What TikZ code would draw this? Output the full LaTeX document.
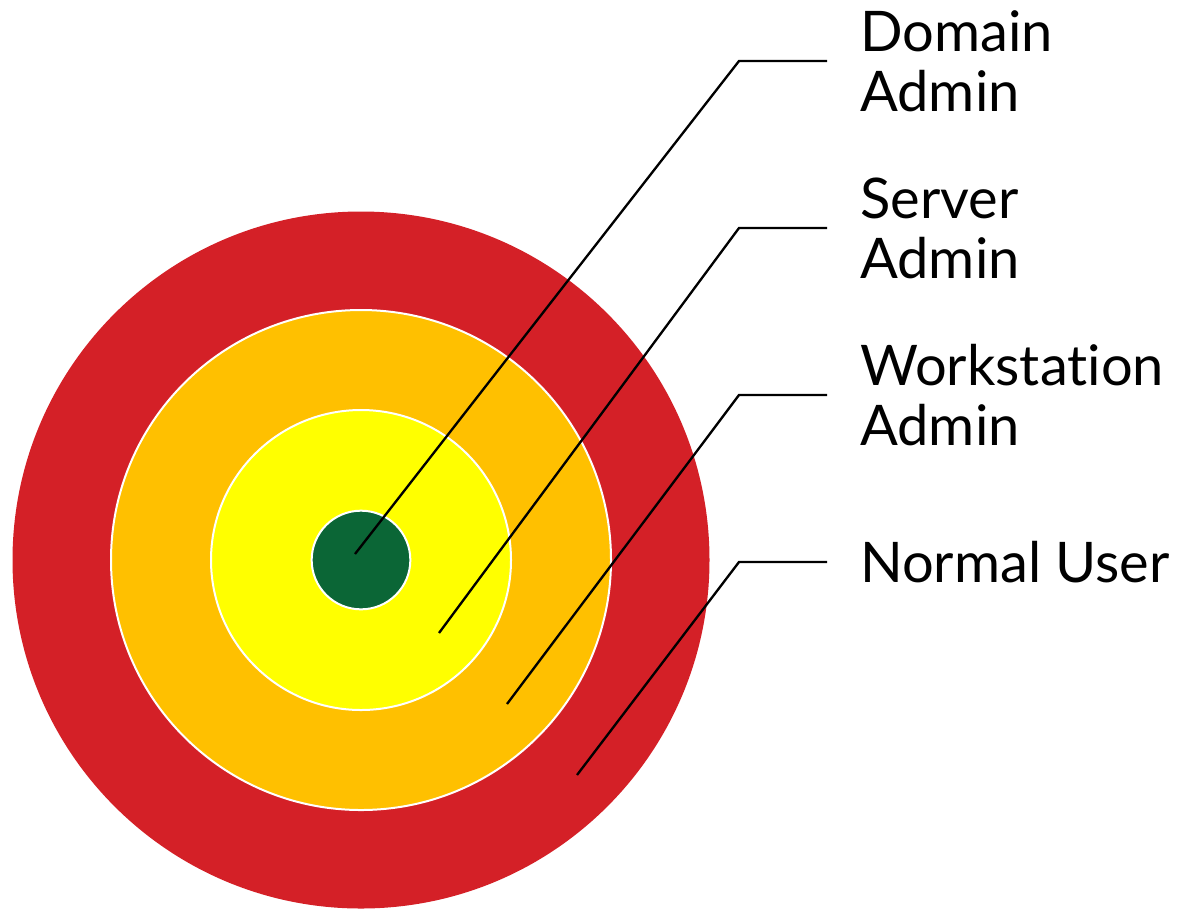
\documentclass[tikz,border=0pt]{standalone}
\usepackage{fontspec}
\setmainfont{Lato}[Ligatures={NoCommon}]
\usepackage{color}

\definecolor{ringred}{RGB}{212,32,39}
\definecolor{ringorange}{RGB}{255,192,0}
\definecolor{ringyellow}{RGB}{255,255,0}
\definecolor{ringgreen}{RGB}{11,102,54}

\tikzset{
  ring/.style={circle, draw=white, line width=1.5pt, inner sep=0pt},
  lbl/.style={anchor=west, align=left, inner xsep=24.75pt, inner ysep=0pt,
    font=\fontsize{42}{45}\selectfont},
  lead/.style={draw=black, line width=1.75pt}
}

\begin{document}
\begin{tikzpicture}[x=0.75pt, y=-0.75pt]
            \useasboundingbox (0,0) rectangle (1177,908);

            \node[ring, fill=ringred, draw=none, minimum size=522.75pt] (c0) at (361, 560) {};
            \node[ring, fill=ringorange, minimum size=375pt] (c1) at (361, 560) {};
            \node[ring, fill=ringyellow, minimum size=225pt] (c2) at (361, 560) {};
            \node[ring, fill=ringgreen, minimum size=74pt] (c3) at (361, 560) {};

            \node[lbl] (t1) at (827, 61) {Domain\\Admin};
            \node[lbl] (t2) at (827, 228) {Server\\Admin};
            \node[lbl] (t3) at (827, 395) {Workstation\\Admin};
            \node[lbl] (t4) at (827, 562) {Normal User};

            \coordinate (p1) at (355, 554);
            \coordinate (p2) at (439, 633);
            \coordinate (p3) at (507, 704);
            \coordinate (p4) at (577, 775);
            \coordinate (k1) at (739, 61);
            \coordinate (k2) at (739, 228);
            \coordinate (k3) at (739, 395);
            \coordinate (k4) at (739, 562);

            \draw[lead] (p1) -- (k1) -- (t1.west);
            \draw[lead] (p2) -- (k2) -- (t2.west);
            \draw[lead] (p3) -- (k3) -- (t3.west);
            \draw[lead] (p4) -- (k4) -- (t4.west);
    	\end{tikzpicture}
\end{document}
